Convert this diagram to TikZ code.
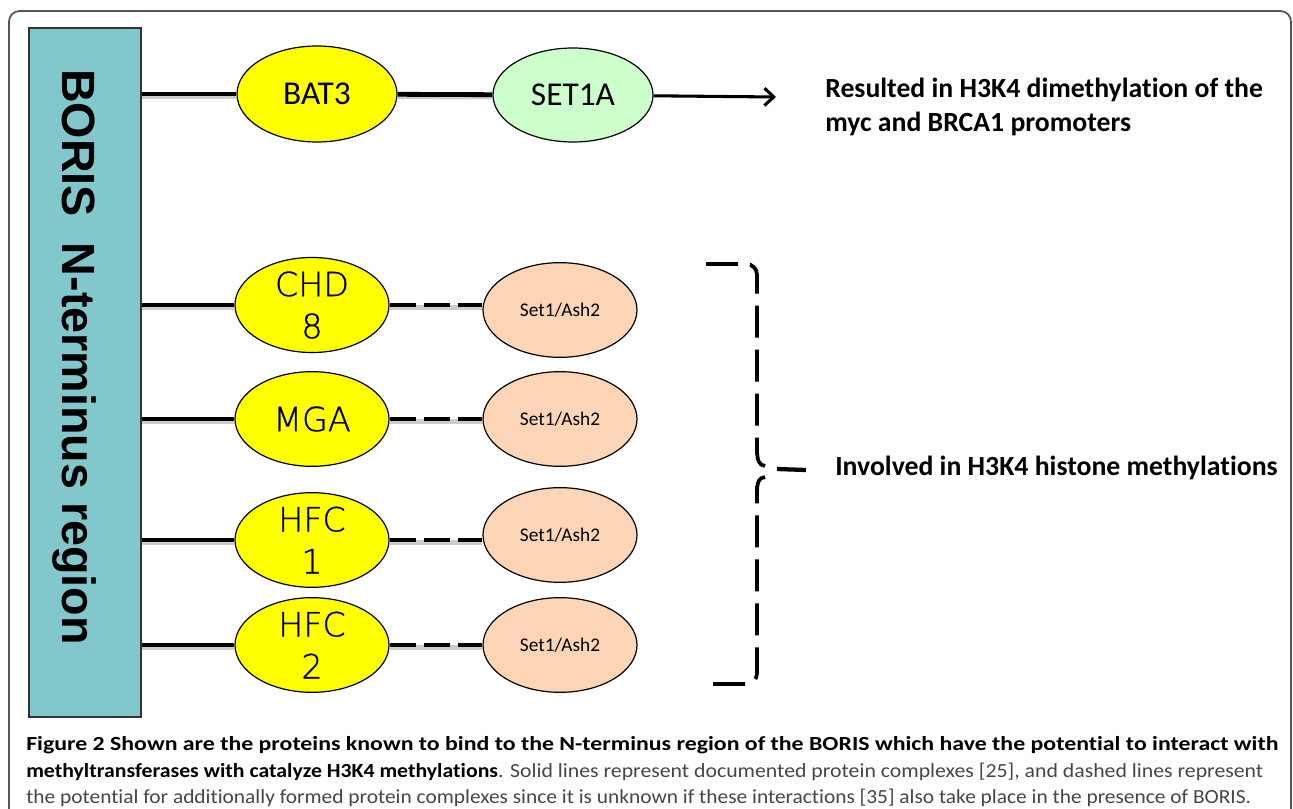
\documentclass[tikz,border=0pt]{standalone}
\usepackage{fontspec}
\setmainfont{Carlito}[Ligatures=NoCommon]
\newfontfamily\arialfont{Liberation Sans}
\newfontfamily\thinfont{DejaVu Sans ExtraLight}[FakeBold=0.8]
\usepackage{graphicx}
\usetikzlibrary{positioning,arrows.meta,shapes.geometric}
\definecolor{borisBlue}{RGB}{130,199,204}
\definecolor{bindYellow}{RGB}{255,255,0}
\definecolor{setGreen}{RGB}{204,255,204}
\definecolor{ashPeach}{RGB}{251,213,181}
\definecolor{frameGray}{RGB}{85,85,85}
\definecolor{capGray}{RGB}{70,70,70}
\newcommand{\capfit}[2]{\resizebox{#1}{\height}{#2}}

\begin{document}
\begin{tikzpicture}[x=0.75pt, y=-0.75pt,
  protein/.style={ellipse, draw=black, line width=0.9pt, inner sep=0pt, align=center,
    minimum width=115.5pt, minimum height=71pt},
  link/.style={line width=3.6pt, preaction={draw=black!20, line width=3.6pt, transform canvas={yshift=-1.8pt}}},
  maybe/.style={link, dash pattern=on 19.5pt off 6pt},
  brace/.style={line width=2.8pt, dash pattern=on 24pt off 9pt, rounded corners=8pt},
  hook/.style={line width=2.8pt},
  outcome/.style={font=\bfseries\fontsize{20.8}{25.5}\selectfont, align=left, anchor=west, inner sep=0pt},
  captext/.style={anchor=base west, inner sep=0pt, font=\fontsize{15}{19}\selectfont}]
  \useasboundingbox (0,0) rectangle (1293,809);

  % Frame
  \draw[frameGray, line width=1.3pt, rounded corners=8pt] (9,830) -- (9,11) -- (1291,11) -- (1291,830);

  % BORIS N-terminus box
  \node[draw=black!80, line width=1.2pt, fill=borisBlue, minimum width=84pt,
    minimum height=516.75pt, inner sep=0pt] (boris) at (85,372.5) {};
  \node[rotate=-90, anchor=base, font=\arialfont\bfseries\fontsize{35}{40}\selectfont]
    (borislabel) at (62,357) {BORIS\ \ N-terminus region};

  % BAT3 -- SET1A
  \node[protein, fill=bindYellow, minimum width=120pt, minimum height=72pt,
    font=\fontsize{25}{30}\selectfont] (bat) at (317,94) {BAT3};
  \node[protein, fill=setGreen, minimum width=120pt, minimum height=70.5pt,
    font=\fontsize{25}{30}\selectfont] (set) at (573,95) {SET1A};
  \coordinate (tip) at (776,97);
  \draw[line width=2.3pt, -{Straight Barb[length=7pt, width=13pt]}] (set) -- (tip);

  % Binding partners with Set1/Ash2
  \foreach \nm/\lbl/\y/\ya in {chd/{CHD\\8}/305/310, mga/MGA/419/419,
                               hfca/{HFC\\1}/540/535, hfcb/{HFC\\2}/645/645} {
    \node[protein, fill=bindYellow, font=\thinfont\fontsize{25}{31.5}\selectfont] (\nm) at (312,\y) {\lbl};
    \node[protein, fill=ashPeach, font=\fontsize{14.5}{17}\selectfont] (\nm-ash) at (560,\ya) {Set1/Ash2};
  }

  % Complexes (solid) and possible complexes (dashed)
  \foreach \nm in {bat,chd,mga,hfca,hfcb}
    \draw[link] (boris.east |- \nm.west) -- (\nm.west);
  \draw[link] (bat) -- (set);
  \foreach \nm in {chd,mga,hfca,hfcb}
    \draw[maybe] (\nm.east) -- (\nm.east -| \nm-ash.west);

  % Outcomes
  \node[outcome] (dimeth) at (825,107) {Resulted in H3K4 dimethylation of the\\myc and BRCA1 promoters};
  \node[outcome] (histmeth) at (835,468) {Involved in H3K4 histone methylations};

  % Bracket
  \coordinate (brtop) at (706,264);
  \coordinate (brbot) at (713,684);
  \coordinate (tickstart) at (777,469);
  \coordinate (tickend) at (806,470);
  \draw[brace] (brtop) -- (757,264) -- (757,454);
  \draw[brace] (brbot) -- (757,684) -- (757,486);
  \draw[hook] (757,448) .. controls (757,461) and (759,465) .. (765,466);
  \draw[hook] (765,477) .. controls (759,478) and (757,481) .. (757,494);
  \draw[line width=3.2pt] (tickstart) -- (tickend);

  % Caption
  \node[captext] (cap1) at (26,750) {\capfit{939pt}{\textbf{Figure 2 Shown are the proteins known to bind to the N-terminus region of the BORIS which have the potential to interact with}}};
  \node[captext] (cap2) at (26,777) {\capfit{927.75pt}{\textbf{methyltransferases with catalyze H3K4 methylations}\textcolor{capGray}{. Solid lines represent documented protein complexes [25], and dashed lines represent}}};
  \node[captext] (cap3) at (26,803) {\capfit{918.75pt}{\textcolor{capGray}{the potential for additionally formed protein complexes since it is unknown if these interactions [35] also take place in the presence of BORIS.}}};
\end{tikzpicture}
\end{document}
